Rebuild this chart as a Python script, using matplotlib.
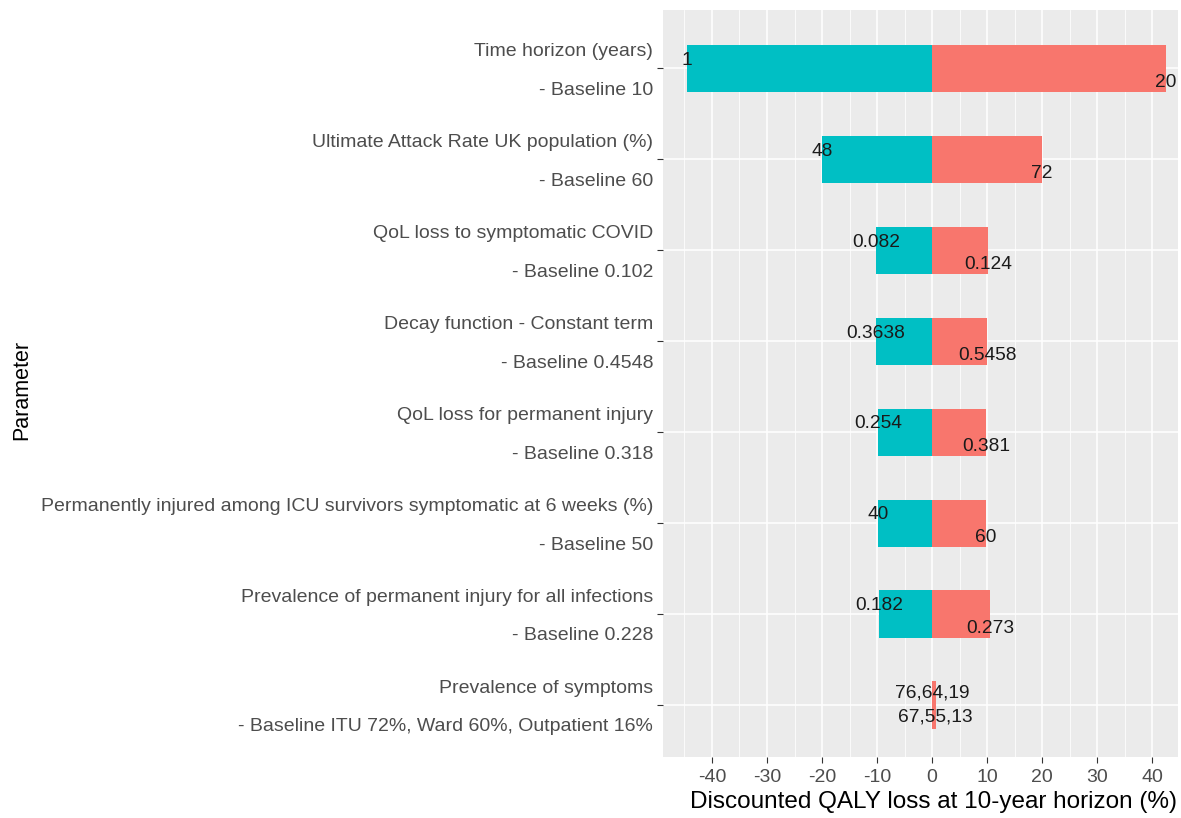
import numpy as np
import matplotlib
matplotlib.use("Agg")
from matplotlib import pyplot as plt
from matplotlib import transforms

plt.rcParams['font.family'] = ['Liberation Sans', 'DejaVu Sans']

# parameters, top to bottom
params = ['Time horizon (years)',
          'Ultimate Attack Rate UK population (%)',
          'QoL loss to symptomatic COVID',
          'Decay function - Constant term',
          'QoL loss for permanent injury',
          'Permanently injured among ICU survivors symptomatic at 6 weeks (%)',
          'Prevalence of permanent injury for all infections',
          'Prevalence of symptoms']
baselines = ['10', '60', '0.102', '0.4548', '0.318', '50', '0.228',
             'ITU 72%, Ward 60%, Outpatient 16%']
low_change = [-44.5, -20.0, -10.2, -10.2, -9.8, -9.8, -9.6, 0.0]
high_change = [42.5, 20.0, 10.2, 10.0, 9.8, 9.8, 10.5, 0.8]
low_labels = ['1', '48', '0.082', '0.3638', '0.254', '40', '0.182', '67,55,13']
high_labels = ['20', '72', '0.124', '0.5458', '0.381', '60', '0.273', '76,64,19']

teal = '#00BFC4'
salmon = '#F8766D'

n = len(params)
y = np.arange(n)[::-1] + 1

fig = plt.figure(figsize=(11.81, 8.18), dpi=100)
ax = fig.add_axes([663 / 1181, 1 - 757 / 818, (1178 - 663) / 1181, (757 - 10) / 818])
ax.set_facecolor('#EBEBEB')

ax.set_xticks(np.arange(-40, 41, 10))
ax.set_xticks(np.arange(-45, 46, 10), minor=True)
ax.set_yticks(y)
ax.grid(which='major', color='white', linewidth=1.1)
ax.grid(which='minor', axis='x', color='white', linewidth=0.55)
ax.set_axisbelow(True)

ax.barh(y, low_change, height=0.52, color=teal)
ax.barh(y, high_change, height=0.52, color=salmon)

fs = 13.8
for i in range(n):
    if i == n - 1:
        # prevalence of symptoms labels sit near the centre
        ax.text(0, y[i] + 0.13, high_labels[i], ha='center', va='center', fontsize=fs, color='#1A1A1A')
        ax.text(0.6, y[i] - 0.13, low_labels[i], ha='center', va='center', fontsize=fs, color='#1A1A1A')
    else:
        ax.text(low_change[i], y[i] + 0.09, low_labels[i], ha='center', va='center', fontsize=fs, color='#1A1A1A')
        ax.text(high_change[i], y[i] - 0.16, high_labels[i], ha='center', va='center', fontsize=fs, color='#1A1A1A')

# two-line parameter labels, drawn by hand for the wide line gap
trans = transforms.blended_transform_factory(ax.transAxes, ax.transData)
for i in range(n):
    ax.text(-0.019, y[i] + 0.18, params[i], transform=trans, ha='right', va='center',
            fontsize=14, color='#4D4D4D')
    ax.text(-0.019, y[i] - 0.24, '- Baseline ' + baselines[i], transform=trans, ha='right',
            va='center', fontsize=14, color='#4D4D4D')
ax.set_yticklabels([''] * n)

ax.set_xticklabels([str(v) for v in range(-40, 41, 10)], fontsize=14, color='#4D4D4D')
ax.tick_params(which='major', color='#333333', length=4)
ax.tick_params(axis='x', pad=5)
ax.tick_params(which='minor', length=0)
for s in ax.spines.values():
    s.set_visible(False)

ax.set_xlim(-48.9, 44.7)
ax.set_ylim(0.43, n + 0.64)

ax.set_xlabel('Discounted QALY loss at 10-year horizon (%)', fontsize=17.5)
ax.xaxis.set_label_coords(0.525, -0.046)
fig.text(22 / 1181, 1 - 390 / 818, 'Parameter', rotation=90, ha='center', va='center', fontsize=15.5)

fig.savefig('out.png', dpi=100)
